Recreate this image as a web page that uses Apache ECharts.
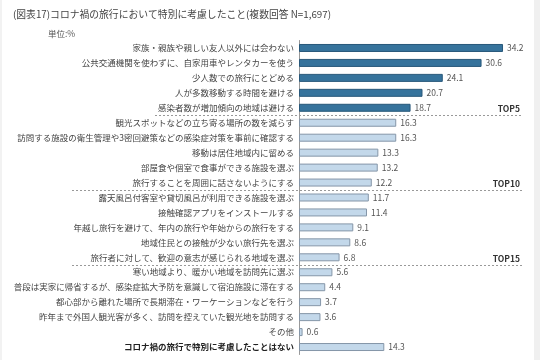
<!DOCTYPE html>
<html><head><meta charset="utf-8">
<script src="https://cdn.jsdelivr.net/npm/echarts@6/dist/echarts.min.js"></script>
<style>html,body{margin:0;padding:0;background:#fff}#c{width:540px;height:360px}</style>
</head><body><div id="c"></div>
<script>
const categories = [
  "家族・親族や親しい友人以外には会わない",
  "公共交通機関を使わずに、自家用車やレンタカーを使う",
  "少人数での旅行にとどめる",
  "人が多数移動する時間を避ける",
  "感染者数が増加傾向の地域は避ける",
  "観光スポットなどの立ち寄る場所の数を減らす",
  "訪問する施設の衛生管理や3密回避策などの感染症対策を事前に確認する",
  "移動は居住地域内に留める",
  "部屋食や個室で食事ができる施設を選ぶ",
  "旅行することを周囲に話さないようにする",
  "露天風呂付客室や貸切風呂が利用できる施設を選ぶ",
  "接触確認アプリをインストールする",
  "年越し旅行を避けて、年内の旅行や年始からの旅行をする",
  "地域住民との接触が少ない旅行先を選ぶ",
  "旅行者に対して、歓迎の意志が感じられる地域を選ぶ",
  "寒い地域より、暖かい地域を訪問先に選ぶ",
  "普段は実家に帰省するが、感染症拡大予防を意識して宿泊施設に滞在する",
  "都心部から離れた場所で長期滞在・ワーケーションなどを行う",
  "昨年まで外国人観光客が多く、訪問を控えていた観光地を訪問する",
  "その他",
  "コロナ禍の旅行で特別に考慮したことはない"
];
const values = [34.2,30.6,24.1,20.7,18.7,16.3,16.3,13.3,13.2,12.2,11.7,11.4,9.1,8.6,6.8,5.6,4.4,3.7,3.6,0.6,14.3];
const topGroups = ["TOP5","TOP10","TOP15"];
const groupEnds = [5,10,15];
const titleText = "(図表17)コロナ禍の旅行において特別に考慮したこと(複数回答 N=1,697)";
const unitText = "単位:%";

const FONT = "'Noto Sans CJK JP', sans-serif";
const chart = echarts.init(document.getElementById('c'));
const data = values.map((v,i)=>({
  value: v,
  itemStyle: i<5 ? {color:'#36739c', borderColor:'#28587a', borderWidth:1}
                 : {color:'#c3d8ea', borderColor:'#8596a8', borderWidth:1}
}));
chart.setOption({
  animation:false,
  backgroundColor:'#fff',
  title:{text:titleText, left:8, top:4,
    textStyle:{fontFamily:FONT, fontSize:9.8, fontWeight:'normal', color:'#444'}},
  grid:{left:299, top:40.5, width:208.8, height:314},
  xAxis:{type:'value', min:0, max:35, show:false},
  yAxis:{type:'category', data:categories, inverse:true,
    axisLine:{show:true, lineStyle:{color:'#999', width:1}},
    axisTick:{show:false},
    axisLabel:{fontFamily:FONT, fontSize:8.5, color:'#444', margin:5,
      formatter:(v)=> v===categories[categories.length-1] ? '{b|'+v+'}' : v,
      rich:{b:{fontFamily:FONT, fontSize:8.5, color:'#222', fontWeight:'bold'}}}
  },
  series:[{type:'bar', data:data, barWidth:8,
    label:{show:true, position:'right', distance:4, fontFamily:FONT, fontSize:8.5, color:'#555',
      formatter:(p)=>p.value.toFixed(1)}
  }]
});

const g = [
  {type:'text', left:48, top:30, style:{text:unitText, font:'8.5px '+FONT, fill:'#555'}},
  {type:'rect', shape:{x:534,y:0,width:6,height:360}, style:{fill:'#f0f0f0'}},
  {type:'rect', shape:{x:0,y:0,width:2,height:360}, style:{fill:'#f2f2f2'}}
];
const starts = [155,72,72];
groupEnds.forEach((e,k)=>{
  const yA = chart.convertToPixel({yAxisIndex:0}, e-1);
  const yB = chart.convertToPixel({yAxisIndex:0}, e);
  const y = Math.round((yA+yB)/2)+0.5;
  g.push({type:'line', shape:{x1:starts[k], y1:y, x2:522, y2:y},
    style:{stroke:'#999', lineWidth:1, lineDash:[2,2]}});
  g.push({type:'text', x:520, y:y-2, style:{text:topGroups[k], font:'bold 8.5px '+FONT, fill:'#333', align:'right', verticalAlign:'bottom'}});
});
chart.setOption({graphic:g});
</script></body></html>
